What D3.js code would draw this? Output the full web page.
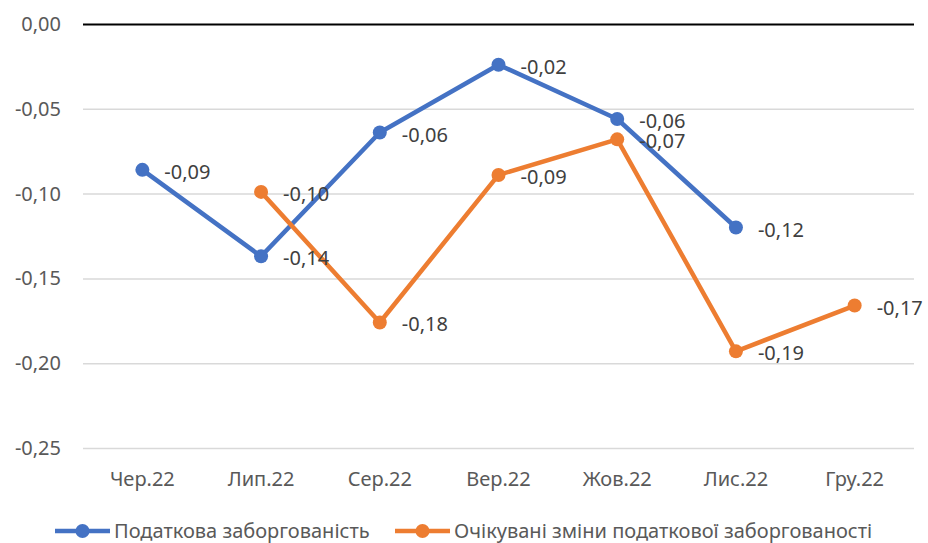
<!DOCTYPE html>
<html>
<head>
<meta charset="utf-8">
<script src="https://cdn.jsdelivr.net/npm/d3@7"></script>
<style>
  body { margin: 0; background: #fff; }
  text { font-family: "Noto Sans", "Open Sans", sans-serif; fill: #595959; }
</style>
</head>
<body>
<div id="chart"></div>
<script>
// Data
const months = ["Чер.22", "Лип.22", "Сер.22", "Вер.22", "Жов.22", "Лис.22", "Гру.22"];
const debt = [-0.086, -0.137, -0.064, -0.024, -0.056, -0.120, null];
const expected = [null, -0.099, -0.176, -0.089, -0.068, -0.193, -0.166];
const yTicks = [0, -0.05, -0.1, -0.15, -0.2, -0.25];
const seriesNames = ["Податкова заборгованість", "Очікувані зміни податкової заборгованості"];
const colors = ["#4472c4", "#ed7d31"];

const fmt = (v) => d3.format(".2f")(v).replace(".", ",").replace("−", "-");

const dimensions = { width: 928, height: 543, left: 83, right: 14, top: 24, bottom: 95 };
dimensions.ctrWidth = dimensions.width - dimensions.left - dimensions.right;
dimensions.ctrHeight = dimensions.height - dimensions.top - dimensions.bottom;

const svg = d3.select("#chart")
  .append("svg")
  .attr("width", dimensions.width)
  .attr("height", dimensions.height);

const ctr = svg.append("g")
  .attr("transform", `translate(${dimensions.left}, ${dimensions.top})`);

// Scales
const xScale = d3.scaleBand()
  .domain(months)
  .range([0, dimensions.ctrWidth]);

const yScale = d3.scaleLinear()
  .domain([0, -0.25])
  .range([0, dimensions.ctrHeight]);

// Gridlines + y labels
const yAxis = d3.axisLeft(yScale)
  .tickValues(yTicks)
  .tickSize(-dimensions.ctrWidth)
  .tickPadding(22)
  .tickFormat(fmt);

const yG = ctr.append("g").call(yAxis);
yG.select(".domain").remove();
yG.selectAll(".tick line")
  .attr("stroke", (d) => (d === 0 ? "#000" : "#d9d9d9"))
  .attr("stroke-width", (d) => (d === 0 ? 2 : 1.5));
yG.selectAll(".tick text")
  .attr("font-family", null)
  .attr("font-size", null)
  .style("font-size", "20px")
  .style("fill", "#595959");

// X labels
ctr.append("g")
  .selectAll("text")
  .data(months)
  .join("text")
  .attr("x", (d) => xScale(d) + xScale.bandwidth() / 2)
  .attr("y", yScale(-0.25) + 38)
  .attr("text-anchor", "middle")
  .style("font-size", "20px")
  .text((d) => d);

// Lines
const series = [debt, expected];
series.forEach((vals, i) => {
  const pts = months.map((m, j) => ({ m, v: vals[j] })).filter((d) => d.v !== null);
  const line = d3.line()
    .x((d) => xScale(d.m) + xScale.bandwidth() / 2)
    .y((d) => yScale(d.v));

  ctr.append("path")
    .datum(pts)
    .attr("d", line)
    .attr("fill", "none")
    .attr("stroke", colors[i])
    .attr("stroke-width", 4.5)
    .attr("stroke-linejoin", "round");

  ctr.append("g")
    .selectAll("circle")
    .data(pts)
    .join("circle")
    .attr("cx", (d) => xScale(d.m) + xScale.bandwidth() / 2)
    .attr("cy", (d) => yScale(d.v))
    .attr("r", 7)
    .attr("fill", colors[i]);
});

// Data labels
series.forEach((vals, i) => {
  const pts = months.map((m, j) => ({ m, v: vals[j] })).filter((d) => d.v !== null);
  ctr.append("g")
    .selectAll("text")
    .data(pts)
    .join("text")
    .attr("x", (d) => xScale(d.m) + xScale.bandwidth() / 2 + 22)
    .attr("y", (d) => yScale(d.v) + 2)
    .attr("dy", "0.35em")
    .style("font-size", "20px")
    .style("fill", "#404040")
    .text((d) => fmt(d.v));
});

// Legend
const legend = svg.append("g").attr("transform", `translate(0, ${dimensions.height - 12})`);
const legendX = [55, 395];
seriesNames.forEach((name, i) => {
  const g = legend.append("g").attr("transform", `translate(${legendX[i]}, 0)`);
  g.append("line")
    .attr("x1", 0).attr("x2", 55)
    .attr("stroke", colors[i])
    .attr("stroke-width", 4.5);
  g.append("circle")
    .attr("cx", 27.5)
    .attr("r", 7)
    .attr("fill", colors[i]);
  g.append("text")
    .attr("x", 59)
    .attr("dy", "0.35em")
    .style("font-size", "20px")
    .text(name);
});
</script>
</body>
</html>
